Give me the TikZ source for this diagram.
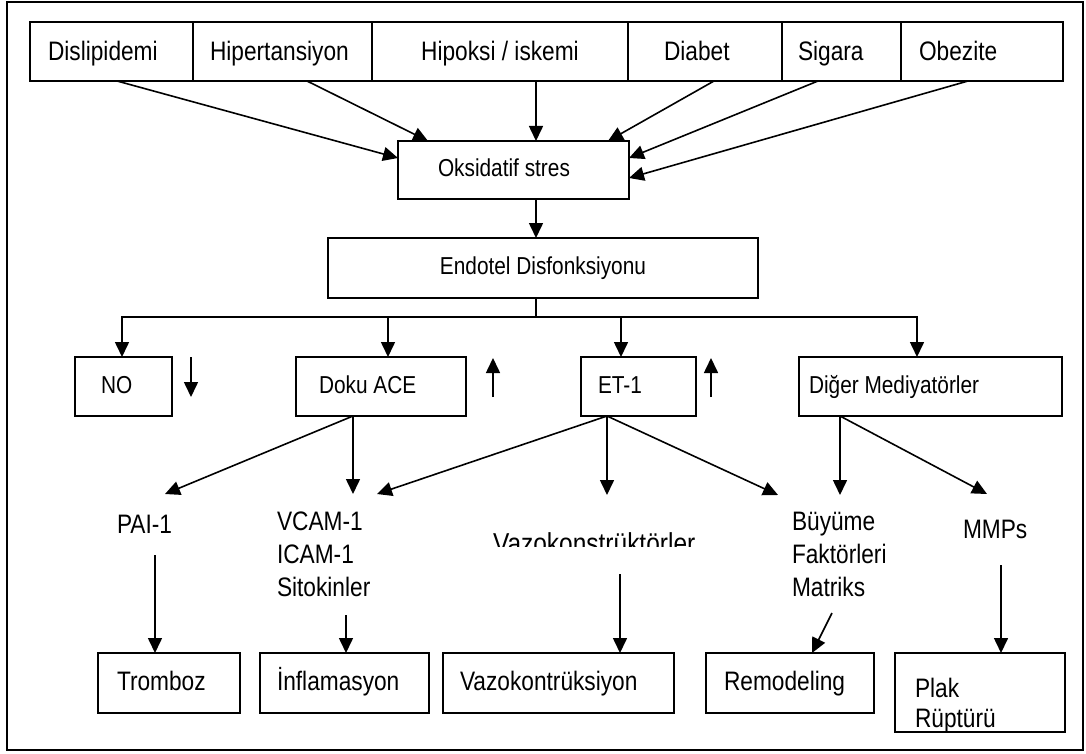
\documentclass[tikz,border=0pt]{standalone}
\usepackage{fontspec}
\newfontfamily\diagfont{Liberation Sans}[FakeStretch=0.85]
\usetikzlibrary{arrows.meta}
\tikzset{>={Triangle[length=15pt,width=14pt]}}
\tikzset{
  box/.style={draw, line width=1.6pt, anchor=north west, outer sep=0pt, align=flush left, minimum height=60pt, text height=20pt, text depth=6pt, font=\diagfont\fontsize{26.7}{33}\selectfont},
  risk/.style={box, minimum height=59pt, text height=21.4pt, text depth=4.3pt},
  midbox/.style={box, minimum height=59pt, text height=18.4pt, text depth=5.4pt, font=\diagfont\fontsize{24.5}{30}\selectfont},
  lbl/.style={anchor=north west, inner sep=0pt, outer sep=0pt, align=left, font=\diagfont\fontsize{26.7}{33}\selectfont},
  conn/.style={->, line width=1.6pt},
}

\begin{document}
\begin{tikzpicture}[x=1pt, y=-1pt]
     \useasboundingbox (0,0) rectangle (1086,754);
     \draw[line width=1.4pt] (7,2) rectangle (1083,750);
     % risk factors
     \node[risk, inner xsep=18pt, text width=127pt] (dis) at (30,22) {Dislipidemi};
     \node[risk, inner xsep=17pt, text width=145pt] (hip) at (193,22) {Hipertansiyon};
     \node[risk, align=center, minimum width=256pt] (hipo) at (372,22) {Hipoksi / iskemi};
     \node[risk, inner xsep=36pt, text width=82pt] (dia) at (628,22) {Diabet};
     \node[risk, inner xsep=16pt, text width=87pt] (sig) at (782,22) {Sigara};
     \node[risk, inner xsep=18pt, text width=126pt] (obe) at (901,22) {Obezite};
     \node[midbox, inner xsep=40pt, text width=151pt, minimum height=58pt] (oks) at (398,141) {Oksidatif stres};
     \node[midbox, align=center, minimum width=430pt, minimum height=60pt] (endo) at (328,238) {Endotel Disfonksiyonu};
     \draw[conn] ([xshift=87pt]dis.south west) -- ([yshift=12pt]oks.west);
     \draw[conn] ([xshift=114pt]hip.south west) -- ([xshift=30pt]oks.north west);
     \draw[conn] ([xshift=164pt]hipo.south west) -- ([xshift=138pt]oks.north west);
     \draw[conn] ([xshift=86pt]dia.south west) -- ([xshift=210pt]oks.north west);
     \draw[conn] ([xshift=36pt]sig.south west) -- ([yshift=12pt]oks.east);
     \draw[conn] ([xshift=67pt]obe.south west) -- ([yshift=-8pt]oks.east);
     \draw[conn] ([xshift=138pt]oks.south west) -- ([xshift=208pt]endo.north west);
     % mediators
     \node[midbox, inner xsep=26pt, text width=45pt] (no) at (75,357) {NO};
     \node[midbox, inner xsep=23pt, text width=124pt] (doku) at (296,357) {Doku ACE};
     \node[midbox, inner xsep=17pt, text width=81pt] (et) at (581,357) {ET-1};
     \node[midbox, inner xsep=10pt, text width=243pt] (diger) at (799,357) {Diğer Mediyatörler};
     \coordinate (bus) at (536,317);
     \draw[line width=1.6pt] ([xshift=208pt]endo.south west) -- (bus);
     \draw[conn] (bus) -| ([xshift=47pt]no.north west);
     \draw[conn] (bus) -| ([xshift=92pt]doku.north west);
     \draw[conn] (bus) -| ([xshift=40pt]et.north west);
     \draw[conn] (bus) -| ([xshift=118pt]diger.north west);
     \draw[conn] (191,357) -- (191,397);
     \draw[conn] (493,397) -- (493,358);
     \draw[conn] (711,397) -- (711,358);
     % products
     \node[lbl, minimum height=61pt] (pai) at (117,494) {PAI-1};
     \node[lbl, minimum height=121pt] (vcam) at (277,494) {VCAM-1\\ICAM-1\\Sitokinler};
     \begin{scope}
       \clip (480,480) rectangle (720,546);
       \node[lbl, minimum height=97pt, font=\diagfont\fontsize{28.8}{33}\selectfont] (vazo) at (493,495) {Vazokonstrüktörler};
     \end{scope}
     \node[lbl, minimum height=118pt] (buy) at (792,495) {Büyüme\\Faktörleri\\Matriks};
     \node[lbl, minimum height=71pt] (mmp) at (963,494) {MMPs};
     \draw[conn] ([xshift=57pt]doku.south west) -- ([xshift=48pt]pai.north west);
     \draw[conn] ([xshift=57pt]doku.south west) -- ([xshift=76pt]vcam.north west);
     \draw[conn] ([xshift=26pt]et.south west) -- ([xshift=100pt]vcam.north west);
     \draw[conn] ([xshift=26pt]et.south west) -- ([xshift=114pt]vazo.north west);
     \draw[conn] ([xshift=26pt]et.south west) -- ([xshift=-14pt]buy.north west);
     \draw[conn] ([xshift=41pt]diger.south west) -- ([xshift=48pt]buy.north west);
     \draw[conn] ([xshift=41pt]diger.south west) -- ([xshift=24pt]mmp.north west);
     % outcomes
     \node[box, inner xsep=19pt, text width=104pt] (tromb) at (98,653) {Tromboz};
     \node[box, inner xsep=17pt, text width=135pt] (infl) at (260,653) {İnflamasyon};
     \node[box, inner xsep=17pt, text width=197pt] (vazk) at (443,653) {Vazokontrüksiyon};
     \node[box, inner xsep=18pt, text width=132pt] (remod) at (706,653) {Remodeling};
     \node[box, inner xsep=20pt, text width=130pt, minimum height=79pt, text height=20pt, text depth=11pt] (plak) at (895,653) {Plak\\[-3pt]Rüptürü};
     \draw[conn] ([xshift=38pt]pai.south west) -- ([xshift=57pt]tromb.north west);
     \draw[conn] ([xshift=69pt]vcam.south west) -- ([xshift=86pt]infl.north west);
     \draw[conn] ([xshift=127pt,yshift=18pt]vazo.south west) -- ([xshift=177pt]vazk.north west);
     \draw[conn] ([xshift=40pt]buy.south west) -- ([xshift=106pt]remod.north west);
     \draw[conn] ([xshift=38pt]mmp.south west) -- ([xshift=106pt]plak.north west);
\end{tikzpicture}
\end{document}
